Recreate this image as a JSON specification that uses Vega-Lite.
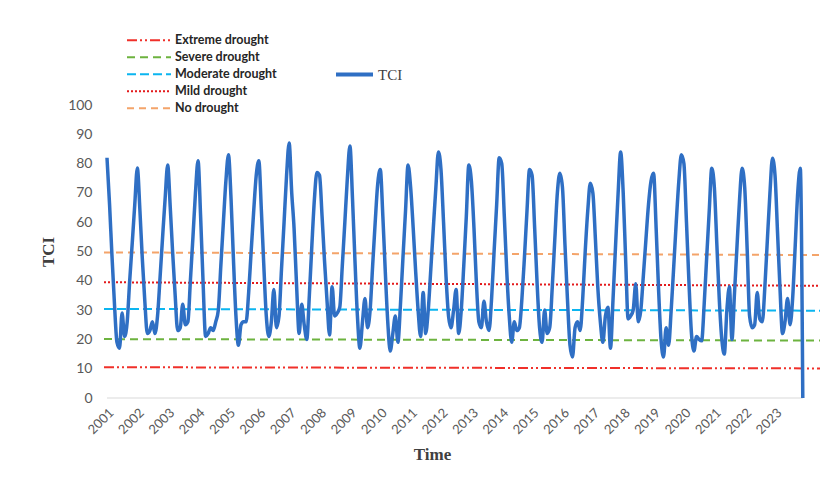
{
  "$schema": "https://vega.github.io/schema/vega-lite/v6.json",
  "width": 716,
  "height": 293,
  "autosize": "none",
  "padding": {"left": 104, "top": 105, "right": 4, "bottom": 97},
  "background": "white",
  "config": {"view": {"stroke": null}},
  "datasets": {
    "thresholds": [
      {"level": "Extreme drought", "date": "2000-11-26", "date2": "2024-06-25", "tci": 10.5, "tci2": 10.1},
      {"level": "Severe drought", "date": "2000-11-26", "date2": "2024-06-25", "tci": 20.1, "tci2": 19.6},
      {"level": "Moderate drought", "date": "2000-11-26", "date2": "2024-06-25", "tci": 30.4, "tci2": 29.8},
      {"level": "Mild drought", "date": "2000-11-26", "date2": "2024-06-25", "tci": 39.5, "tci2": 38.3},
      {"level": "No drought", "date": "2000-11-26", "date2": "2024-06-25", "tci": 49.7, "tci2": 48.8}
    ],
    "zero": [{"date": "2001-01-01", "date2": "2023-12-01", "tci": 0, "tci2": 0}],
    "series": [
      {"date":"2001-01","tci":82},{"date":"2001-02","tci":66},{"date":"2001-03","tci":49},{"date":"2001-04","tci":32},{"date":"2001-05","tci":19},{"date":"2001-06","tci":17},{"date":"2001-07","tci":29},{"date":"2001-08","tci":21},{"date":"2001-09","tci":26},{"date":"2001-10","tci":40},{"date":"2001-11","tci":53},{"date":"2001-12","tci":66},
      {"date":"2002-01","tci":78.5},{"date":"2002-02","tci":64},{"date":"2002-03","tci":48},{"date":"2002-04","tci":33},{"date":"2002-05","tci":22},{"date":"2002-06","tci":23},{"date":"2002-07","tci":26},{"date":"2002-08","tci":22},{"date":"2002-09","tci":28},{"date":"2002-10","tci":41},{"date":"2002-11","tci":55},{"date":"2002-12","tci":68},
      {"date":"2003-01","tci":79.5},{"date":"2003-02","tci":65},{"date":"2003-03","tci":50},{"date":"2003-04","tci":35},{"date":"2003-05","tci":23},{"date":"2003-06","tci":24},{"date":"2003-07","tci":32},{"date":"2003-08","tci":25},{"date":"2003-09","tci":26},{"date":"2003-10","tci":40},{"date":"2003-11","tci":55},{"date":"2003-12","tci":70},
      {"date":"2004-01","tci":81},{"date":"2004-02","tci":62},{"date":"2004-03","tci":40},{"date":"2004-04","tci":21},{"date":"2004-05","tci":22},{"date":"2004-06","tci":24},{"date":"2004-07","tci":23},{"date":"2004-08","tci":26},{"date":"2004-09","tci":30},{"date":"2004-10","tci":45},{"date":"2004-11","tci":60},{"date":"2004-12","tci":74},
      {"date":"2005-01","tci":83},{"date":"2005-02","tci":68},{"date":"2005-03","tci":48},{"date":"2005-04","tci":28},{"date":"2005-05","tci":18},{"date":"2005-06","tci":25},{"date":"2005-07","tci":26},{"date":"2005-08","tci":26},{"date":"2005-09","tci":36},{"date":"2005-10","tci":50},{"date":"2005-11","tci":64},{"date":"2005-12","tci":76},
      {"date":"2006-01","tci":81},{"date":"2006-02","tci":64},{"date":"2006-03","tci":46},{"date":"2006-04","tci":28},{"date":"2006-05","tci":21},{"date":"2006-06","tci":26},{"date":"2006-07","tci":37},{"date":"2006-08","tci":24},{"date":"2006-09","tci":28},{"date":"2006-10","tci":44},{"date":"2006-11","tci":60},{"date":"2006-12","tci":76},
      {"date":"2007-01","tci":87},{"date":"2007-02","tci":70},{"date":"2007-03","tci":58},{"date":"2007-04","tci":38},{"date":"2007-05","tci":22},{"date":"2007-06","tci":32},{"date":"2007-07","tci":25},{"date":"2007-08","tci":20},{"date":"2007-09","tci":35},{"date":"2007-10","tci":52},{"date":"2007-11","tci":68},{"date":"2007-12","tci":77},
      {"date":"2008-01","tci":76},{"date":"2008-02","tci":62},{"date":"2008-03","tci":47},{"date":"2008-04","tci":33},{"date":"2008-05","tci":21.5},{"date":"2008-06","tci":38},{"date":"2008-07","tci":28},{"date":"2008-08","tci":29},{"date":"2008-09","tci":31},{"date":"2008-10","tci":45},{"date":"2008-11","tci":60},{"date":"2008-12","tci":75},
      {"date":"2009-01","tci":86},{"date":"2009-02","tci":68},{"date":"2009-03","tci":48},{"date":"2009-04","tci":28},{"date":"2009-05","tci":17},{"date":"2009-06","tci":26},{"date":"2009-07","tci":34},{"date":"2009-08","tci":24},{"date":"2009-09","tci":30},{"date":"2009-10","tci":45},{"date":"2009-11","tci":60},{"date":"2009-12","tci":73},
      {"date":"2010-01","tci":78},{"date":"2010-02","tci":62},{"date":"2010-03","tci":44},{"date":"2010-04","tci":26},{"date":"2010-05","tci":16},{"date":"2010-06","tci":22},{"date":"2010-07","tci":28},{"date":"2010-08","tci":19},{"date":"2010-09","tci":32},{"date":"2010-10","tci":48},{"date":"2010-11","tci":64},{"date":"2010-12","tci":79.5},
      {"date":"2011-01","tci":72},{"date":"2011-02","tci":58},{"date":"2011-03","tci":44},{"date":"2011-04","tci":30},{"date":"2011-05","tci":21},{"date":"2011-06","tci":36},{"date":"2011-07","tci":22},{"date":"2011-08","tci":30},{"date":"2011-09","tci":44},{"date":"2011-10","tci":58},{"date":"2011-11","tci":72},{"date":"2011-12","tci":84},
      {"date":"2012-01","tci":78},{"date":"2012-02","tci":60},{"date":"2012-03","tci":42},{"date":"2012-04","tci":28},{"date":"2012-05","tci":24},{"date":"2012-06","tci":30},{"date":"2012-07","tci":37},{"date":"2012-08","tci":22},{"date":"2012-09","tci":30},{"date":"2012-10","tci":45},{"date":"2012-11","tci":62},{"date":"2012-12","tci":79.5},
      {"date":"2013-01","tci":74},{"date":"2013-02","tci":58},{"date":"2013-03","tci":40},{"date":"2013-04","tci":26},{"date":"2013-05","tci":24},{"date":"2013-06","tci":33},{"date":"2013-07","tci":26},{"date":"2013-08","tci":23},{"date":"2013-09","tci":34},{"date":"2013-10","tci":50},{"date":"2013-11","tci":66},{"date":"2013-12","tci":82},
      {"date":"2014-01","tci":80},{"date":"2014-02","tci":62},{"date":"2014-03","tci":44},{"date":"2014-04","tci":28},{"date":"2014-05","tci":19},{"date":"2014-06","tci":26},{"date":"2014-07","tci":23},{"date":"2014-08","tci":24},{"date":"2014-09","tci":34},{"date":"2014-10","tci":48},{"date":"2014-11","tci":64},{"date":"2014-12","tci":78},
      {"date":"2015-01","tci":76},{"date":"2015-02","tci":58},{"date":"2015-03","tci":40},{"date":"2015-04","tci":24},{"date":"2015-05","tci":19},{"date":"2015-06","tci":30},{"date":"2015-07","tci":22},{"date":"2015-08","tci":24},{"date":"2015-09","tci":38},{"date":"2015-10","tci":54},{"date":"2015-11","tci":70},{"date":"2015-12","tci":76.7},
      {"date":"2016-01","tci":72},{"date":"2016-02","tci":52},{"date":"2016-03","tci":34},{"date":"2016-04","tci":18},{"date":"2016-05","tci":14},{"date":"2016-06","tci":24},{"date":"2016-07","tci":26},{"date":"2016-08","tci":23},{"date":"2016-09","tci":34},{"date":"2016-10","tci":50},{"date":"2016-11","tci":64},{"date":"2016-12","tci":73.3},
      {"date":"2017-01","tci":70},{"date":"2017-02","tci":54},{"date":"2017-03","tci":38},{"date":"2017-04","tci":26},{"date":"2017-05","tci":19},{"date":"2017-06","tci":28},{"date":"2017-07","tci":31},{"date":"2017-08","tci":17},{"date":"2017-09","tci":34},{"date":"2017-10","tci":52},{"date":"2017-11","tci":70},{"date":"2017-12","tci":84},
      {"date":"2018-01","tci":70},{"date":"2018-02","tci":46},{"date":"2018-03","tci":27},{"date":"2018-04","tci":28},{"date":"2018-05","tci":30},{"date":"2018-06","tci":39},{"date":"2018-07","tci":26},{"date":"2018-08","tci":30},{"date":"2018-09","tci":42},{"date":"2018-10","tci":54},{"date":"2018-11","tci":66},{"date":"2018-12","tci":74},
      {"date":"2019-01","tci":76.7},{"date":"2019-02","tci":58},{"date":"2019-03","tci":38},{"date":"2019-04","tci":20},{"date":"2019-05","tci":14},{"date":"2019-06","tci":24},{"date":"2019-07","tci":18},{"date":"2019-08","tci":30},{"date":"2019-09","tci":45},{"date":"2019-10","tci":60},{"date":"2019-11","tci":74},{"date":"2019-12","tci":83},
      {"date":"2020-01","tci":80},{"date":"2020-02","tci":60},{"date":"2020-03","tci":40},{"date":"2020-04","tci":22},{"date":"2020-05","tci":16},{"date":"2020-06","tci":21},{"date":"2020-07","tci":20},{"date":"2020-08","tci":19.5},{"date":"2020-09","tci":32},{"date":"2020-10","tci":48},{"date":"2020-11","tci":64},{"date":"2020-12","tci":78.4},
      {"date":"2021-01","tci":72},{"date":"2021-02","tci":52},{"date":"2021-03","tci":34},{"date":"2021-04","tci":20},{"date":"2021-05","tci":15},{"date":"2021-06","tci":30},{"date":"2021-07","tci":38},{"date":"2021-08","tci":20},{"date":"2021-09","tci":36},{"date":"2021-10","tci":52},{"date":"2021-11","tci":68},{"date":"2021-12","tci":78.4},
      {"date":"2022-01","tci":72},{"date":"2022-02","tci":50},{"date":"2022-03","tci":28},{"date":"2022-04","tci":24},{"date":"2022-05","tci":25},{"date":"2022-06","tci":36},{"date":"2022-07","tci":27},{"date":"2022-08","tci":26},{"date":"2022-09","tci":38},{"date":"2022-10","tci":54},{"date":"2022-11","tci":70},{"date":"2022-12","tci":81.8},
      {"date":"2023-01","tci":76},{"date":"2023-02","tci":56},{"date":"2023-03","tci":38},{"date":"2023-04","tci":22},{"date":"2023-05","tci":26},{"date":"2023-06","tci":34},{"date":"2023-07","tci":25},{"date":"2023-08","tci":34},{"date":"2023-09","tci":52},{"date":"2023-10","tci":70},{"date":"2023-11","tci":78.4},{"date":"2023-12","tci":0}
    ]
  },
  "encoding": {
    "x": {
      "field": "date",
      "type": "temporal",
      "scale": {"domain": [{"year": 2000, "month": 11, "date": 26}, {"year": 2024, "month": 6, "date": 25}], "nice": false},
      "axis": {
        "title": "Time",
        "titleFont": "Liberation Serif",
        "titleFontSize": 17,
        "titleFontWeight": "bold",
        "titleColor": "#404040",
        "titleX": 328,
        "titleY": 48,
        "tickCount": {"interval": "year", "step": 1},
        "labelExpr": "year(datum.value) < 2024 ? timeFormat(datum.value, '%Y') : ''",
        "labelAngle": -45,
        "labelFont": "Lato",
        "labelFontSize": 13,
        "labelColor": "#595959",
        "labelPadding": 8,
        "labelDx": 5,
        "labelOverlap": false,
        "labelFlush": false,
        "ticks": false,
        "domain": false,
        "grid": false
      }
    },
    "y": {
      "field": "tci",
      "type": "quantitative",
      "scale": {"domain": [0, 100], "nice": false},
      "axis": {
        "title": "TCI",
        "titleFont": "Liberation Serif",
        "titleFontSize": 17,
        "titleFontWeight": "bold",
        "titleColor": "#404040",
        "titlePadding": 10,
        "values": [0, 10, 20, 30, 40, 50, 60, 70, 80, 90, 100],
        "labelFont": "Lato",
        "labelFontSize": 14,
        "labelColor": "#595959",
        "labelPadding": 12,
        "ticks": false,
        "domain": false,
        "grid": false
      }
    }
  },
  "layer": [
    {
      "data": {"name": "zero"},
      "mark": {"type": "rule", "color": "#D9D9D9", "strokeWidth": 1},
      "encoding": {"x2": {"field": "date2"}, "y2": {"field": "tci2"}}
    },
    {
      "data": {"name": "thresholds"},
      "mark": {"type": "rule", "strokeWidth": 2},
      "encoding": {
        "x2": {"field": "date2"},
        "y2": {"field": "tci2"},
        "color": {
          "field": "level",
          "type": "nominal",
          "scale": {
            "domain": ["Extreme drought", "Severe drought", "Moderate drought", "Mild drought", "No drought"],
            "range": ["#F0302A", "#6DB33F", "#0BB5F0", "#E31A1C", "#F4A46A"]
          },
          "legend": {
            "title": null,
            "orient": "none",
            "legendX": 22,
            "legendY": -73,
            "symbolType": "stroke",
            "symbolSize": 1936,
            "symbolStrokeWidth": 2,
            "labelFont": "Lato",
            "labelFontWeight": "bold",
            "labelFontSize": 12.5,
            "labelColor": "#262626",
            "labelOffset": 3,
            "clipHeight": 16.6,
            "rowPadding": 0,
            "padding": 0
          }
        },
        "strokeDash": {
          "field": "level",
          "type": "nominal",
          "scale": {
            "domain": ["Extreme drought", "Severe drought", "Moderate drought", "Mild drought", "No drought"],
            "range": [[10, 3, 2, 3, 2, 3], [8, 5], [9, 4], [2, 2], [7, 5]]
          },
          "legend": {
            "title": null,
            "orient": "none",
            "legendX": 22,
            "legendY": -73,
            "symbolType": "stroke",
            "symbolSize": 1936,
            "symbolStrokeWidth": 2,
            "labelFont": "Lato",
            "labelFontWeight": "bold",
            "labelFontSize": 12.5,
            "labelColor": "#262626",
            "labelOffset": 3,
            "clipHeight": 16.6,
            "rowPadding": 0,
            "padding": 0
          }
        }
      }
    },
    {
      "data": {"name": "series"},
      "mark": {"type": "line", "interpolate": "monotone", "strokeWidth": 3.5},
      "encoding": {
        "color": {
          "datum": "TCI",
          "type": "nominal",
          "scale": {"domain": ["TCI"], "range": ["#2F6FC4"]},
          "legend": {
            "title": null,
            "orient": "none",
            "legendX": 230,
            "legendY": -51,
            "symbolType": "stroke",
            "symbolSize": 1369,
            "symbolStrokeWidth": 4,
            "labelFont": "Liberation Serif",
            "labelFontSize": 15,
            "labelColor": "#404040",
            "labelOffset": 3,
            "padding": 0
          }
        }
      }
    }
  ],
  "resolve": {"scale": {"color": "independent", "strokeDash": "independent"}}
}
